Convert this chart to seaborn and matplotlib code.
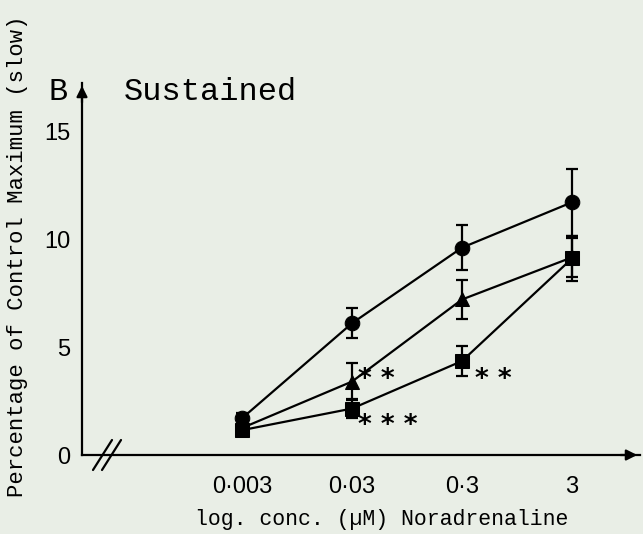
import numpy as np
import pandas as pd
import matplotlib
matplotlib.use("Agg")
import matplotlib.pyplot as plt
import seaborn as sns
from matplotlib.lines import Line2D
from matplotlib.ticker import NullLocator

# ---- data ----
conc = [0.003, 0.03, 0.3, 3]
tick_labels = ["0\u00b7003", "0\u00b703", "0\u00b73", "3"]
circle_vals = [1.7, 6.1, 9.6, 11.7]
circle_err = [0.25, 0.7, 1.05, 1.55]
triangle_vals = [1.25, 3.4, 7.2, 9.15]
triangle_err = [0.15, 0.85, 0.9, 0.9]
square_vals = [1.15, 2.15, 4.35, 9.1]
square_err = [0.15, 0.45, 0.7, 1.05]
yticks = [0, 5, 10, 15]
# significance annotations: (x, y, text)
sig_marks = [(0.034, 3.15, "* *"), (0.034, 1.0, "* * *"), (0.39, 3.15, "* *")]

W, H = 643, 534
bg = "#e9eee6"
mono = "Liberation Mono"

sns.set_theme(style="white")
plt.rcParams["font.family"] = ["Liberation Sans", "DejaVu Sans"]

fig = plt.figure(figsize=(W / 100, H / 100), dpi=100, facecolor=bg)


def fx(px):
    return px / W


def fy(py):
    return 1 - py / H


ax = fig.add_axes([fx(82), fy(455), fx(640) - fx(82), fy(83) - fy(455)])
ax.set_facecolor(bg)
ax.set_xscale("log")

df = pd.DataFrame({
    "conc": conc * 3,
    "value": circle_vals + triangle_vals + square_vals,
    "series": ["circle"] * 4 + ["triangle"] * 4 + ["square"] * 4,
})
sns.lineplot(data=df, x="conc", y="value", style="series",
             style_order=["circle", "triangle", "square"],
             markers={"circle": "o", "triangle": "^", "square": "s"},
             dashes=False, color="black", lw=1.6, markersize=10.5,
             markeredgecolor="black", legend=False, ax=ax, zorder=3)

for vals, err in [(circle_vals, circle_err), (triangle_vals, triangle_err),
                  (square_vals, square_err)]:
    ax.errorbar(conc, vals, yerr=err, fmt="none", ecolor="black",
                elinewidth=1.6, capsize=4.5, capthick=1.6, zorder=2)

lo = -2.523 - 160 / 110
hi = -2.523 + 398 / 110
ax.set_xlim(10 ** lo, 10 ** hi)
ax.set_ylim(0, (455 - 83) / 21.6)

ax.set_xticks(conc)
ax.set_xticklabels(tick_labels)
ax.xaxis.set_minor_locator(NullLocator())
ax.set_yticks(yticks)
ax.set_yticklabels([str(v) for v in yticks])
ax.tick_params(axis="x", direction="out", length=9, width=1.6, pad=6,
               labelsize=17, colors="black")
ax.tick_params(axis="y", direction="out", length=8, width=1.6, pad=0.5,
               labelsize=17, colors="black")

for s in ["top", "right"]:
    ax.spines[s].set_visible(False)
for s in ["left", "bottom"]:
    ax.spines[s].set_color("black")
    ax.spines[s].set_linewidth(1.6)

# arrow heads on axes
ax.annotate("", xy=(1.0, 0), xytext=(0.96, 0), xycoords="axes fraction",
            arrowprops=dict(arrowstyle="-|>", color="black", lw=1.6,
                            mutation_scale=16), annotation_clip=False)
ax.annotate("", xy=(0, 1.0), xytext=(0, 0.94), xycoords="axes fraction",
            arrowprops=dict(arrowstyle="-|>", color="black", lw=1.6,
                            mutation_scale=16), annotation_clip=False)

# axis break marks
for dx in (0, 9):
    fig.add_artist(Line2D([fx(93 + dx), fx(112 + dx)], [fy(470), fy(440)],
                          color="black", lw=1.6))

for x, y, t in sig_marks:
    ax.text(x, y, t, family="DejaVu Sans", fontsize=19, fontweight="bold",
            ha="left", va="baseline", color="black")

ax.set_ylabel("Percentage of Control Maximum (slow)", family=mono,
              fontsize=16, color="black")
ax.yaxis.label.set_verticalalignment("center")
ax.yaxis.set_label_coords((18 - 82) / 558, (455 - 256) / 372)
ax.set_xlabel("log. conc. (\u00b5M) Noradrenaline", family=mono,
              fontsize=15.5, color="black")
ax.xaxis.set_label_coords((382 - 82) / 558, -(519 - 455) / 372)
ax.xaxis.label.set_verticalalignment("center")

fig.text(fx(58), fy(92), "B", family=mono, fontsize=23, ha="center",
         va="center", color="black")
fig.text(fx(124), fy(92), "Sustained", family=mono, fontsize=23, ha="left",
         va="center", color="black")

fig.savefig("out.png", dpi=100, facecolor=bg)
